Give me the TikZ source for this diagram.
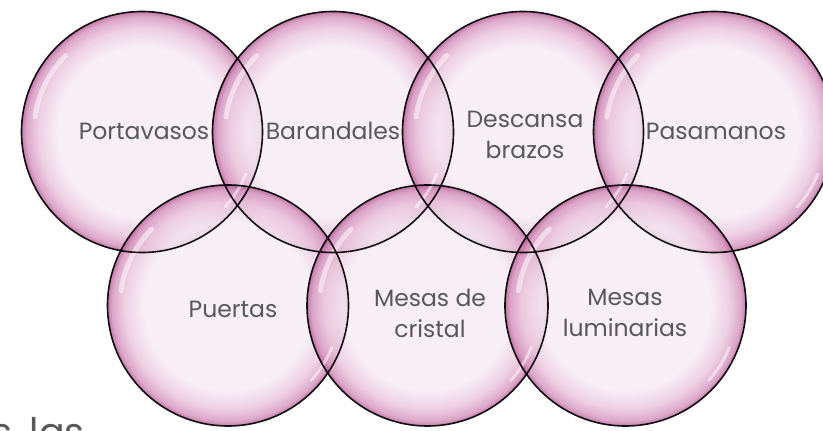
\documentclass[tikz,border=0pt]{standalone}
\usepackage{fontspec}
\setmainfont{Poppins}
\definecolor{bubIn}{RGB}{246,236,243}
\definecolor{bubMid}{RGB}{234,196,220}
\definecolor{bubEdge}{RGB}{212,146,189}
\definecolor{bubRim}{RGB}{180,90,148}
\definecolor{txt}{RGB}{88,88,88}
\pgfdeclareradialshading{bubble}{\pgfpoint{0bp}{0bp}}{%
  color(0bp)=(bubIn); color(17.5bp)=(bubIn); color(21.5bp)=(bubMid);
  color(24bp)=(bubEdge); color(25bp)=(bubRim); color(50bp)=(bubRim)}
\tikzset{
  bub/.style={circle, minimum size=241pt, inner sep=0pt, shading=bubble,
    fill opacity=0.8},
  ring/.style={circle, minimum size=241pt, inner sep=0pt, draw=black,
    line width=1.6pt, draw opacity=0.92},
  hl/.style={draw=white, line width=5pt, line cap=round, opacity=0.5},
  hlb/.style={draw=white, line width=3pt, line cap=round, opacity=0.5},
  lbl/.style={text=txt, font=\fontsize{23.5}{31}\selectfont, align=center, inner sep=0pt},
}
\newcommand{\bubhl}[1]{%
  \draw[hl] ([shift={(135:108)}]#1.center) arc[start angle=135, end angle=172, radius=108];
  \draw[hlb] ([shift={(-22:112)}]#1.center) arc[start angle=-22, end angle=-42, radius=112];
}
\begin{document}
\begin{tikzpicture}[x=1pt,y=1pt]
\useasboundingbox (0,0) rectangle (823,431);
\clip (0,0) rectangle (823,431);
\fill[white] (0,0) rectangle (823,431);
% bubbles
\node[bub] (b1) at (142,299) {};
\node[bub] (b2) at (333,299) {};
\node[bub] (b3) at (523,299) {};
\node[bub] (b4) at (714,299) {};
\node[bub] (b5) at (228,125.5) {};
\node[bub] (b6) at (427.5,125.5) {};
\node[bub] (b7) at (625.5,125.5) {};
% highlights
\foreach \b in {b1,b2,b3,b4,b5,b6,b7}{\bubhl{\b}}
% outlines
\foreach \b in {b1,b2,b3,b4,b5,b6,b7}{\node[ring] at (\b.center) {};}
% labels
\node[lbl, anchor=base] (t1) at (144,291) {Portavasos};
\node[lbl, anchor=base] (t2) at (333,291) {Barandales};
\node[lbl] (t3) at (525,296) {Descansa\\brazos};
\node[lbl, anchor=base] (t4) at (716,291) {Pasamanos};
\node[lbl, anchor=base] (t5) at (233,113) {Puertas};
\node[lbl] (t6) at (430,118) {Mesas de\\cristal};
\node[lbl] (t7) at (625,118) {Mesas\\luminarias};
\node[text=txt, font=\fontsize{38}{44}\selectfont, anchor=base west, inner sep=0pt] (cut) at (-8,-15) {s, las};
\end{tikzpicture}
\end{document}
